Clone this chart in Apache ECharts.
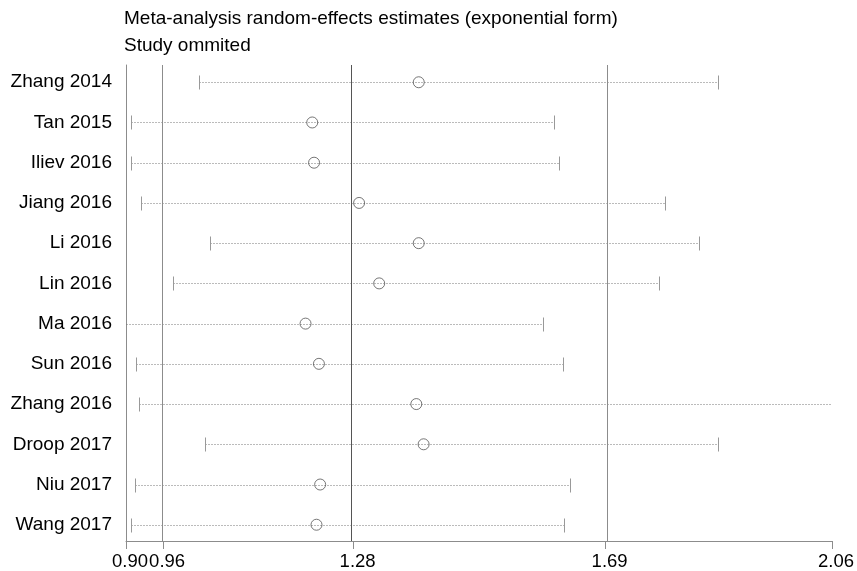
<!DOCTYPE html>
<html lang="en">
<head>
    <meta charset="utf-8">
    <script src="https://cdn.jsdelivr.net/npm/echarts@6/dist/echarts.min.js"></script>
    <style>
        html, body {
            margin: 0px;
            padding: 0px;
            width: 100%;
            height: 100%;
            background-color: #fff;
        }

        #chart {
            width: 857px;
            height: 571px;
        }
    </style>
    <title>Study ommited</title>
</head>
<body>
<div id="chart"></div>
<script type="text/javascript">
    // studies, top to bottom
    var studies = ['Zhang 2014', 'Tan 2015', 'Iliev 2016', 'Jiang 2016', 'Li 2016', 'Lin 2016',
        'Ma 2016', 'Sun 2016', 'Zhang 2016', 'Droop 2017', 'Niu 2017', 'Wang 2017'];
    // estimate with the study omitted, and its 95% CI
    var estimate = [1.381, 1.206, 1.209, 1.283, 1.381, 1.316, 1.195, 1.217, 1.377, 1.389, 1.219, 1.213];
    var lower = [1.020, 0.909, 0.909, 0.924, 1.038, 0.978, 0.895, 0.916, 0.921, 1.029, 0.914, 0.909];
    var upper = [1.873, 1.603, 1.611, 1.786, 1.842, 1.775, 1.585, 1.618, 2.060, 1.873, 1.629, 1.620];

    // overall estimate and CI (vertical lines)
    var overall = [0.961, 1.274, 1.688];

    // x axis ticks
    var xTickValues = [0.90, 0.961, 1.274, 1.688, 2.06];
    var xTickLabels = ['0.90', '0.96', '1.28', '1.69', '2.06'];

    var myChart = echarts.init(document.getElementById('chart'), null, {renderer: 'canvas'});

    var rowIndex = [];
    var ciData = [];
    var pointData = [];
    for (var i = 0; i < studies.length; i++) {
        rowIndex.push(i + 1);
        ciData.push([lower[i], upper[i], i + 1]);
        pointData.push([estimate[i], i + 1]);
    }

    function renderCI(params, api) {
        var lo = api.coord([api.value(0), api.value(2)]);
        var hi = api.coord([api.value(1), api.value(2)]);
        var y = Math.round(lo[1]) + 0.5;
        var x1 = Math.round(lo[0]) + 0.5;
        var x2 = Math.round(hi[0]) + 0.5;
        return {
            type: 'group',
            children: [
                {
                    type: 'line',
                    shape: {x1: x1, y1: y, x2: x2, y2: y},
                    style: {stroke: '#777', lineWidth: 1, lineDash: [1, 2]}
                },
                {
                    type: 'line',
                    shape: {x1: x1, y1: y - 7, x2: x1, y2: y + 7},
                    style: {stroke: '#999', lineWidth: 1}
                },
                {
                    type: 'line',
                    shape: {x1: x2, y1: y - 7, x2: x2, y2: y + 7},
                    style: {stroke: '#999', lineWidth: 1}
                }
            ]
        };
    }

    var option = {
        animation: false,
        backgroundColor: '#fff',
        textStyle: {fontFamily: 'Liberation Sans, Arial, sans-serif'},
        title: {
            text: 'Meta-analysis random-effects estimates (exponential form)\nStudy ommited',
            left: 119,
            top: 0,
            textStyle: {
                fontSize: 19,
                fontWeight: 'normal',
                color: '#000',
                lineHeight: 27
            }
        },
        grid: {
            left: 126,
            right: 25,
            top: 65,
            bottom: 29,
            containLabel: false
        },
        xAxis: {
            type: 'value',
            min: 0.90,
            max: 2.06,
            splitLine: {show: false},
            axisLine: {show: true, lineStyle: {color: '#8c8c8c', width: 1}},
            axisTick: {
                show: true,
                customValues: xTickValues,
                length: 8,
                lineStyle: {color: '#8c8c8c'}
            },
            axisLabel: {
                customValues: xTickValues,
                color: '#000',
                fontSize: 18.5,
                margin: 11,
                padding: [0, 0, 0, 8],
                hideOverlap: false,
                formatter: function (v) {
                    for (var k = 0; k < xTickValues.length; k++) {
                        if (Math.abs(xTickValues[k] - v) < 1e-6) return xTickLabels[k];
                    }
                    return '';
                }
            }
        },
        yAxis: {
            type: 'value',
            inverse: true,
            min: 0.571,
            max: 12.404,
            splitLine: {show: false},
            axisLine: {show: true, lineStyle: {color: '#8c8c8c', width: 1}},
            axisTick: {show: false},
            axisLabel: {
                customValues: rowIndex,
                color: '#000',
                fontSize: 19,
                margin: 14,
                formatter: function (v) {
                    return studies[Math.round(v) - 1] || '';
                }
            }
        },
        series: [
            {
                type: 'custom',
                renderItem: renderCI,
                data: ciData,
                encode: {x: [0, 1], y: 2},
                clip: true,
                silent: true,
                z: 2
            },
            {
                type: 'scatter',
                data: pointData,
                symbol: 'circle',
                symbolSize: 11,
                silent: true,
                itemStyle: {color: 'rgba(0,0,0,0)', borderColor: '#555', borderWidth: 1},
                z: 3,
                markLine: {
                    silent: true,
                    symbol: 'none',
                    label: {show: false},
                    lineStyle: {type: 'solid', width: 1},
                    data: [
                        {xAxis: overall[0], lineStyle: {color: '#8c8c8c'}},
                        {xAxis: overall[1], lineStyle: {color: '#555'}},
                        {xAxis: overall[2], lineStyle: {color: '#8c8c8c'}}
                    ]
                }
            }
        ]
    };

    myChart.setOption(option, true);
</script>
</body>
</html>
